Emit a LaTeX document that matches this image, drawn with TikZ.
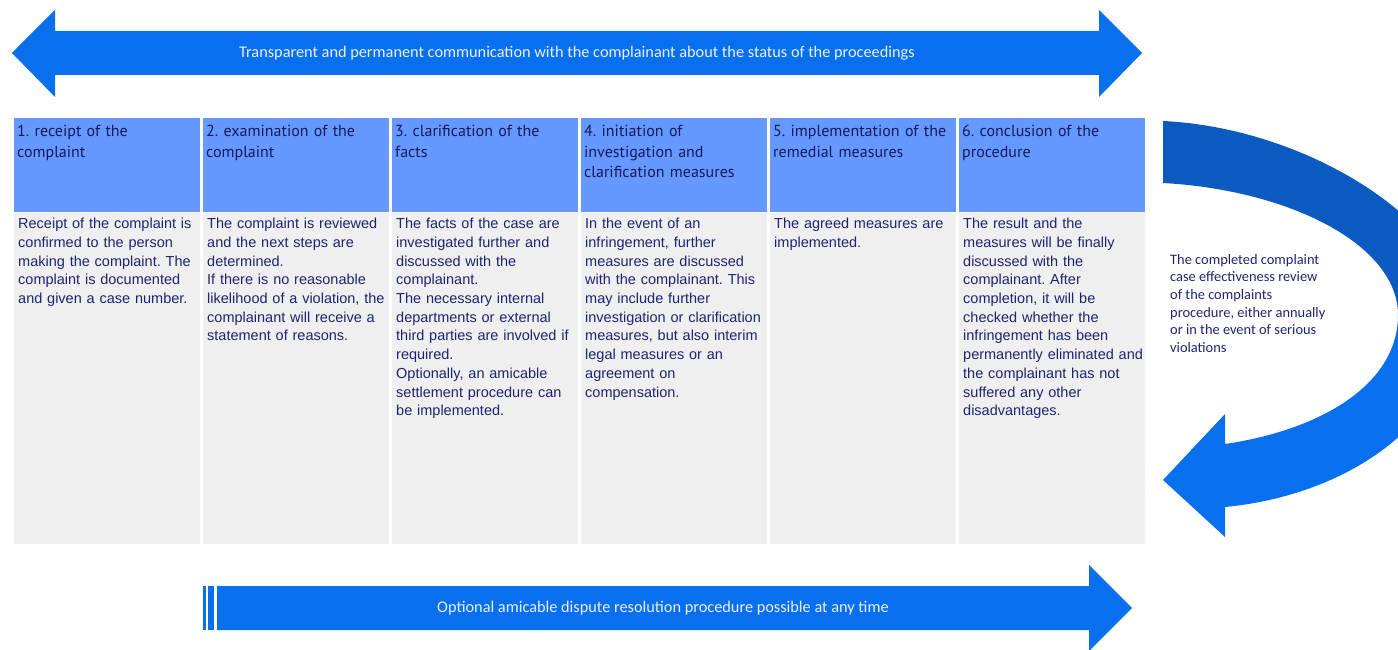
\documentclass[tikz,border=0pt]{standalone}
\usepackage{fontspec}
\setmainfont{Liberation Sans}
\newfontfamily\headfont{PT Sans}
\newfontfamily\calfont{Carlito}
\usepackage{xcolor}
\usepackage{tikz}
\frenchspacing

\definecolor{arrowblue}{HTML}{0870EE}
\definecolor{arrowdark}{HTML}{0A5AC0}
\definecolor{headblue}{HTML}{6699FF}
\definecolor{cellgrey}{HTML}{EFEFEF}
\definecolor{navytext}{HTML}{1E2470}
\definecolor{headnavy}{HTML}{141A5C}
\definecolor{paletext}{HTML}{E8F0FF}

\begin{document}
\begin{tikzpicture}[x=1pt, y=-1pt,
		headbox/.style={rectangle, anchor=north west, fill=headblue, minimum width=186pt, minimum height=94pt, inner sep=0pt},
		bodybox/.style={rectangle, anchor=north west, fill=cellgrey, minimum width=186pt, minimum height=331pt, inner sep=0pt},
		headtext/.style={anchor=north west, text width=182pt, align=left, inner xsep=3pt, inner ysep=7pt, text=headnavy, font=\headfont\fontsize{16}{20.5}\selectfont},
		bodytext/.style={anchor=north west, text width=184pt, align=left, inner xsep=4pt, inner ysep=5pt, text=navytext, font=\fontsize{14.5}{18.7}\selectfont},
		arrowtext/.style={text=paletext, inner sep=0pt, font=\calfont\fontsize{16.3}{19}\selectfont},
	]
		\useasboundingbox (0,0) rectangle (1398,650);

		% arrows
		\fill[arrowblue] (12,53) -- (55,10) -- (55,31) -- (1099,31) -- (1099,10) -- (1142,53)
			-- (1099,97) -- (1099,75) -- (55,75) -- (55,97) -- cycle;
		\fill[arrowblue] (203,586) rectangle (206,630);
		\fill[arrowblue] (208,586) rectangle (214,630);
		\fill[arrowblue] (217,586) -- (1089,586) -- (1089,565) -- (1132,608) -- (1089,651)
			-- (1089,630) -- (217,630) -- cycle;
		\begin{scope}
			\clip (0,0) rectangle (1398,650);
			\clip (1163,121) .. controls (1310,128) and (1458,225) .. (1458,312)
				.. controls (1458,420) and (1350,495) .. (1225,507) -- (1225,537) -- (1163,480)
				-- (1225,414) -- (1225,444) .. controls (1320,430) and (1398,385) .. (1398,315)
				.. controls (1398,245) and (1290,190) .. (1163,183) -- cycle;
			\fill[arrowdark] (1150,100) rectangle (1470,290);
			\shade[top color=arrowdark, bottom color=arrowblue] (1150,290) rectangle (1470,340);
			\fill[arrowblue] (1150,340) rectangle (1470,560);
		\end{scope}

		% nodes
		\node[arrowtext] (talk) at (577,53) {Transparent and permanent communication with the complainant about the status of the proceedings};
		\node[arrowtext] (amicable) at (663,608) {Optional amicable dispute resolution procedure possible at any time};
		\node[anchor=north west, inner sep=0pt, align=left, text=navytext, font=\calfont\fontsize{14.4}{17.7}\selectfont] (review) at (1170,254)
			{The completed complaint\\case effectiveness review\\of the complaints\\procedure, either annually\\or in the event of serious\\violations};

		\node[headbox] (head1) at (14,118) {};
		\node[headbox] (head2) at (203,118) {};
		\node[headbox] (head3) at (392,118) {};
		\node[headbox] (head4) at (581,118) {};
		\node[headbox] (head5) at (770,118) {};
		\node[headbox] (head6) at (959,118) {};

		\node[bodybox] (body1) at (14,213) {};
		\node[bodybox] (body2) at (203,213) {};
		\node[bodybox] (body3) at (392,213) {};
		\node[bodybox] (body4) at (581,213) {};
		\node[bodybox] (body5) at (770,213) {};
		\node[bodybox] (body6) at (959,213) {};

		\node[headtext] (title1) at (head1.north west) {1. receipt of the\\complaint};
		\node[headtext] (title2) at (head2.north west) {2. examination of the\\complaint};
		\node[headtext] (title3) at (head3.north west) {3. clarification of the\\facts};
		\node[headtext] (title4) at (head4.north west) {4. initiation of\\investigation and\\clarification measures};
		\node[headtext] (title5) at (head5.north west) {5. implementation of the\\remedial measures};
		\node[headtext] (title6) at (head6.north west) {6. conclusion of the\\procedure};

		\node[bodytext] (text1) at (body1.north west) {Receipt of the complaint is\\confirmed to the person\\making the complaint. The\\complaint is documented\\and given a case number.};
		\node[bodytext] (text2) at (body2.north west) {The complaint is reviewed\\and the next steps are\\determined.\\If there is no reasonable\\likelihood of a violation, the\\complainant will receive a\\statement of reasons.};
		\node[bodytext] (text3) at (body3.north west) {The facts of the case are\\investigated further and\\discussed with the\\complainant.\\The necessary internal\\departments or external\\third parties are involved if\\required.\\Optionally, an amicable\\settlement procedure can\\be implemented.};
		\node[bodytext] (text4) at (body4.north west) {In the event of an\\infringement, further\\measures are discussed\\with the complainant. This\\may include further\\investigation or clarification\\measures, but also interim\\legal measures or an\\agreement on\\compensation.};
		\node[bodytext] (text5) at (body5.north west) {The agreed measures are\\implemented.};
		\node[bodytext] (text6) at (body6.north west) {The result and the\\measures will be finally\\discussed with the\\complainant. After\\completion, it will be\\checked whether the\\infringement has been\\permanently eliminated and\\the complainant has not\\suffered any other\\disadvantages.};
	\end{tikzpicture}
\end{document}
